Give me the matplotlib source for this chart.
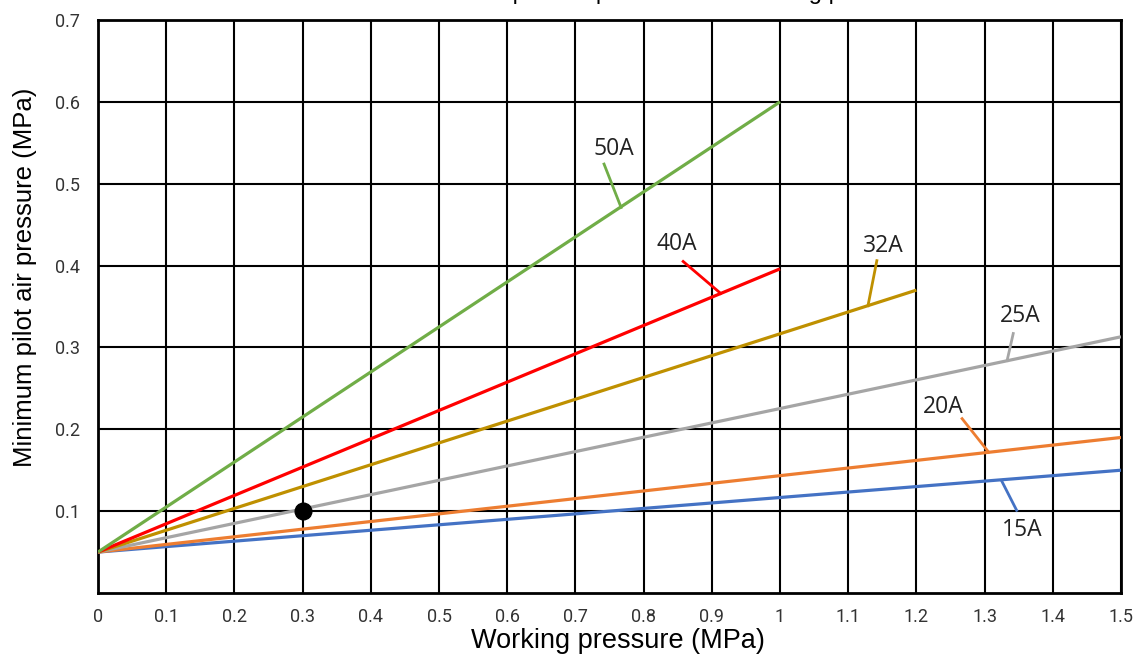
import matplotlib
matplotlib.use("Agg")
import matplotlib.pyplot as plt

# ---- data ----
sizes = ["15A", "20A", "25A", "32A", "40A", "50A"]
start_pressure = 0.05
x_end = [1.5, 1.5, 1.5, 1.2, 1.0, 1.0]
y_end = [0.150, 0.190, 0.313, 0.370, 0.396, 0.600]
point_x = [0.3]
point_y = [0.1]
x_ticks = [0, 0.1, 0.2, 0.3, 0.4, 0.5, 0.6, 0.7, 0.8, 0.9, 1.0, 1.1, 1.2, 1.3, 1.4, 1.5]
x_tick_labels = ["0", "0.1", "0.2", "0.3", "0.4", "0.5", "0.6", "0.7", "0.8", "0.9",
                 "1", "1.1", "1.2", "1.3", "1.4", "1.5"]
y_ticks = [0.1, 0.2, 0.3, 0.4, 0.5, 0.6, 0.7]
y_tick_labels = ["0.1", "0.2", "0.3", "0.4", "0.5", "0.6", "0.7"]

# ---- styles / layout ----
colors = ["#4472C4", "#ED7D31", "#A5A5A5", "#BF9000", "#FF0000", "#70AD47"]
# label text position, leader start, leader end (data coords)
label_pos = [(1.355, 0.077), (1.240, 0.227), (1.352, 0.338), (1.151, 0.424), (0.849, 0.426), (0.757, 0.543)]
leader_from = [(1.347, 0.101), (1.267, 0.213), (1.342, 0.317), (1.142, 0.406), (0.858, 0.405), (0.742, 0.524)]
leader_to = [(1.325, 0.137), (1.306, 0.172), (1.333, 0.284), (1.129, 0.351), (0.913, 0.366), (0.767, 0.471)]

fig = plt.figure(figsize=(11.4, 6.66), dpi=100)
ax = fig.add_axes([98 / 1140, (666 - 593) / 666, (1121 - 98) / 1140, (593 - 20) / 666])

for s, xe, ye, c in zip(sizes, x_end, y_end, colors):
    ax.plot([0, xe], [start_pressure, ye], color=c, lw=2.3, solid_capstyle="butt", zorder=3)

for s, c, lp, lf, lt in zip(sizes, colors, label_pos, leader_from, leader_to):
    ax.plot([lf[0], lt[0]], [lf[1], lt[1]], color=c, lw=2.0, zorder=3)
    ax.text(lp[0], lp[1], s, ha="center", va="center", fontsize=16.5,
            family=["Open Sans", "DejaVu Sans"], color="#222222", zorder=4)

ax.plot(point_x, point_y, "o", color="black", markersize=12, zorder=5)

ax.set_xlim(0, 1.5)
ax.set_ylim(0, 0.7)
ax.set_xticks(x_ticks)
ax.set_xticklabels(x_tick_labels, family="Roboto", fontsize=13, color="#333333")
ax.set_yticks(y_ticks)
ax.set_yticklabels(y_tick_labels, family="Roboto", fontsize=13, color="#333333")
ax.tick_params(axis="x", length=0, pad=11)
ax.tick_params(axis="y", length=0, pad=13)
ax.grid(True, color="black", lw=1.5)
ax.set_axisbelow(True)
for sp in ax.spines.values():
    sp.set_linewidth(2.0)
    sp.set_color("black")

ax.set_xlabel("Working pressure (MPa)", family="Liberation Sans", fontsize=19.5, va="center")
ax.xaxis.set_label_coords(0.508, (593 - 641) / 573)
ax.set_ylabel("Minimum pilot air pressure (MPa)", family="Liberation Sans", fontsize=18.5, va="center")
ax.yaxis.set_label_coords((25 - 98) / 1023, (593 - 277) / 573)

# title mostly cropped off the top of the image (as in the reference)
fig.text(410 / 1140, 1 + 1 / 666, "Minimum pilot air pressure and working pressure",
         ha="left", va="baseline", family="Liberation Sans", fontsize=17)

fig.savefig("out.png", dpi=100)
